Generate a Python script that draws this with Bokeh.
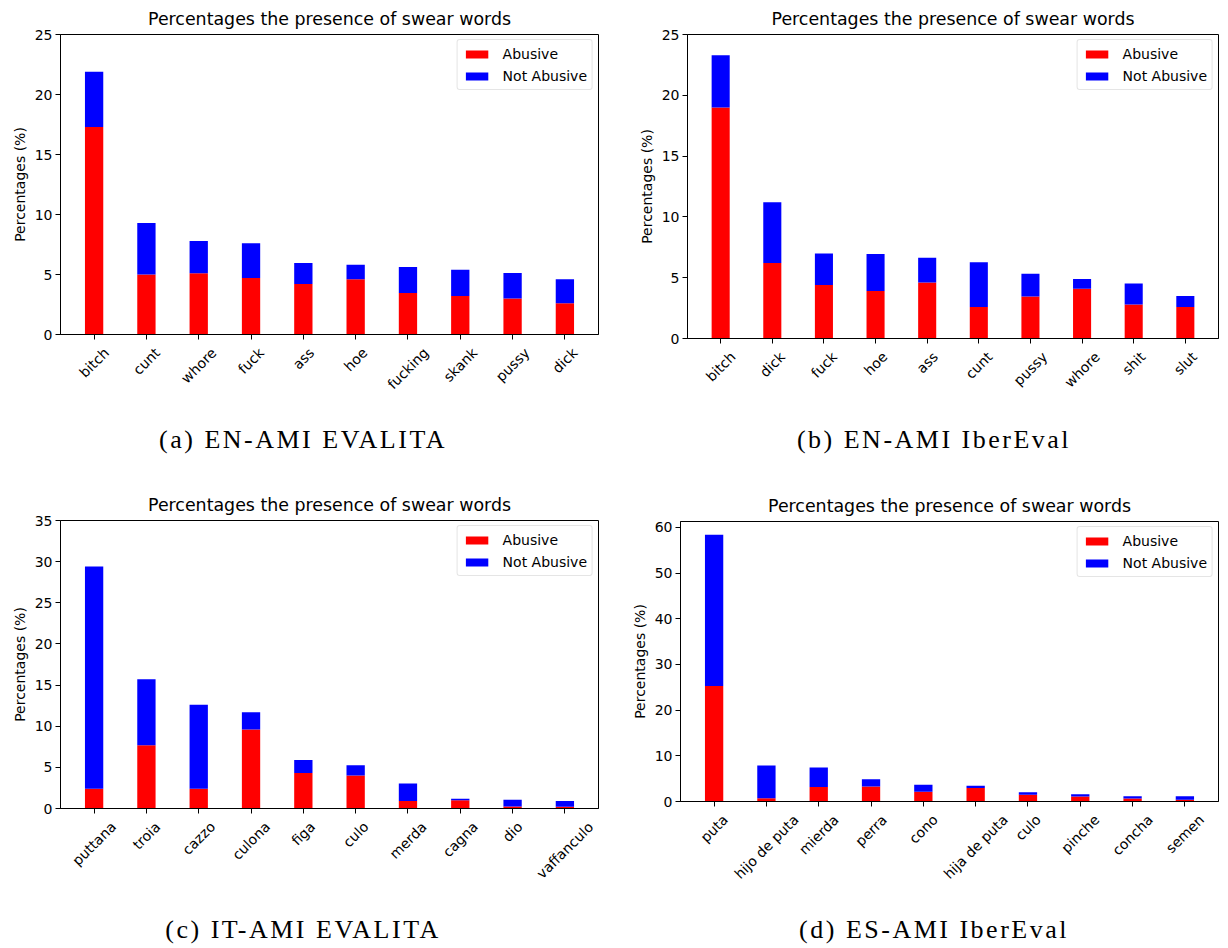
import math
from bokeh.plotting import figure
from bokeh.models import Range1d, FixedTicker, Legend, LegendItem, Div, ColumnDataSource
from bokeh.layouts import column, row
from bokeh.core.properties import value
from bokeh.embed import file_html
from bokeh.resources import INLINE

title_text = "Percentages the presence of swear words"
ylabel = "Percentages (%)"
series_names = ["Abusive", "Not Abusive"]

# (a) EN-AMI EVALITA
a_caption = "(a) EN-AMI EVALITA"
a_words = ["bitch", "cunt", "whore", "fuck", "ass", "hoe", "fucking", "skank", "pussy", "dick"]
a_abusive = [17.3, 5.0, 5.1, 4.7, 4.2, 4.6, 3.45, 3.2, 3.0, 2.6]
a_not_abusive = [4.6, 4.3, 2.7, 2.9, 1.75, 1.22, 2.18, 2.2, 2.13, 2.0]
a_yticks = [0, 5, 10, 15, 20, 25]
a_ymax = 25

# (b) EN-AMI IberEval
b_caption = "(b) EN-AMI IberEval"
b_words = ["bitch", "dick", "fuck", "hoe", "ass", "cunt", "pussy", "whore", "shit", "slut"]
b_abusive = [19.0, 6.2, 4.4, 3.9, 4.6, 2.6, 3.45, 4.1, 2.8, 2.6]
b_not_abusive = [4.3, 5.0, 2.6, 3.05, 2.05, 3.68, 1.88, 0.8, 1.73, 0.9]
b_yticks = [0, 5, 10, 15, 20, 25]
b_ymax = 25

# (c) IT-AMI EVALITA
c_caption = "(c) IT-AMI EVALITA"
c_words = ["puttana", "troia", "cazzo", "culona", "figa", "culo", "merda", "cagna", "dio", "vaffanculo"]
c_abusive = [2.4, 7.7, 2.4, 9.6, 4.3, 4.0, 0.9, 1.0, 0.25, 0.2]
c_not_abusive = [27.0, 8.0, 10.2, 2.1, 1.6, 1.25, 2.15, 0.2, 0.81, 0.7]
c_yticks = [0, 5, 10, 15, 20, 25, 30, 35]
c_ymax = 35

# (d) ES-AMI IberEval
d_caption = "(d) ES-AMI IberEval"
d_words = ["puta", "hijo de puta", "mierda", "perra", "cono", "hija de puta", "culo", "pinche", "concha", "semen"]
d_abusive = [25.3, 0.7, 3.2, 3.3, 2.15, 2.95, 1.5, 1.08, 0.65, 0.37]
d_not_abusive = [33.1, 7.2, 4.23, 1.58, 1.51, 0.5, 0.52, 0.51, 0.51, 0.79]
d_yticks = [0, 10, 20, 30, 40, 50, 60]
d_ymax = 61.3

FONT = "DejaVu Sans"
TICK_PX = 14
AXIS_GAP = 10   # px from frame bottom to end of main figure (tick + pad)

# approximate DejaVu Sans advance widths (em) used to centre rotated tick labels
_W = {"a": .613, "b": .635, "c": .550, "d": .635, "e": .615, "f": .352, "g": .635, "h": .634,
      "i": .278, "j": .278, "k": .579, "l": .278, "m": .974, "n": .634, "o": .612, "p": .635,
      "q": .635, "r": .411, "s": .521, "t": .392, "u": .634, "v": .592, "w": .818, "x": .592,
      "y": .592, "z": .525, " ": .318}


def text_w(s, px):
    return sum(_W.get(ch, .6) for ch in s) * px


def panel(words, abusive, not_abusive, yticks, ymax, width, frame_h, bl, br, bt, label_h):
    n = len(words)
    xs = list(range(n))
    tops = [a + b for a, b in zip(abusive, not_abusive)]
    src = ColumnDataSource(dict(x=xs, abusive=abusive, top=tops))
    xr = Range1d(-0.6425, n - 1 + 0.6425)
    p = figure(width=width, height=bt + frame_h + AXIS_GAP, output_backend="svg",
               toolbar_location=None, x_range=xr, y_range=Range1d(0, ymax),
               title=title_text, min_border_left=bl, min_border_right=br,
               min_border_top=bt, min_border_bottom=AXIS_GAP)
    r1 = p.vbar(x="x", width=0.35, bottom=0, top="abusive", source=src,
                fill_color="#ff0000", line_color=None)
    r2 = p.vbar(x="x", width=0.35, bottom="abusive", top="top", source=src,
                fill_color="#0000ff", line_color=None)
    p.xgrid.visible = False
    p.ygrid.visible = False
    p.outline_line_color = "black"
    p.outline_line_width = 1
    p.outline_line_alpha = 1

    p.xaxis.ticker = FixedTicker(ticks=xs)
    p.xaxis.major_label_overrides = {i: "" for i in xs}
    p.yaxis.ticker = FixedTicker(ticks=yticks)
    p.yaxis.axis_label = ylabel
    for ax in (p.xaxis[0], p.yaxis[0]):
        ax.minor_tick_line_color = None
        ax.major_tick_in = 0
        ax.major_tick_out = 5
        ax.major_tick_line_color = "black"
        ax.axis_line_color = "black"
        ax.major_label_text_font = FONT
        ax.major_label_text_font_size = f"{TICK_PX}px"
        ax.major_label_text_color = "black"
        ax.major_label_standoff = 3
        ax.axis_label_text_font = FONT
        ax.axis_label_text_font_size = "14px"
        ax.axis_label_text_font_style = "normal"
        ax.axis_label_text_color = "black"
        ax.axis_label_standoff = 4
    p.xaxis.major_label_text_font_size = "0px"
    p.xaxis.major_label_standoff = 0

    p.title.text_font = FONT
    p.title.text_font_size = "17.4px"
    p.title.text_font_style = "normal"
    p.title.text_color = "black"
    p.title.align = "center"
    p.title.text_line_height = 1.0
    p.title.standoff = 12

    legend = Legend(items=[LegendItem(label=series_names[0], renderers=[r1]),
                           LegendItem(label=series_names[1], renderers=[r2])],
                    location="top_right")
    legend.margin = 5
    legend.padding = 5
    legend.spacing = 5
    legend.label_height = 17
    legend.glyph_height = 10
    legend.glyph_width = 28
    legend.label_standoff = 12
    legend.label_text_font = FONT
    legend.label_text_font_size = "14px"
    legend.label_text_color = "black"
    legend.border_line_color = "#cccccc"
    legend.border_line_width = 1
    legend.background_fill_alpha = 0.8
    if "border_radius" in Legend.properties():
        legend.border_radius = 3
    p.add_layout(legend)

    # strip under the plot holding the rotated category labels, centred under
    # their ticks (matplotlib style); 1 y-unit = 1 px, 0 = top of the strip
    lp = figure(width=width, height=label_h, output_backend="svg", toolbar_location=None,
                x_range=xr, y_range=Range1d(-label_h, 0), x_axis_type=None, y_axis_type=None,
                min_border_left=bl, min_border_right=br, min_border_top=0, min_border_bottom=0)
    lp.outline_line_color = None
    lp.xgrid.visible = False
    lp.ygrid.visible = False
    h = TICK_PX * 1.16
    ys = [-(0.7071 * (text_w(w, TICK_PX) + h) / 2) for w in words]
    lsrc = ColumnDataSource(dict(x=xs, y=ys, text=words))
    lp.text(x="x", y="y", text="text", source=lsrc, angle=math.pi / 4,
            text_align="center", text_baseline="middle",
            text_font=value(FONT), text_font_size=value(f"{TICK_PX}px"), text_color="black")
    return p, lp


def caption(text, width, height, pad_top, pad_left, pad_right):
    inner_w = width - pad_left - pad_right
    html = (f'<div style="display:block;width:{inner_w}px;margin-left:{pad_left}px;'
            f'text-align:center;font-family:\'Liberation Serif\';'
            'font-size:26px;letter-spacing:2.5px;line-height:22px;color:black;white-space:nowrap;'
            f'padding-top:{pad_top}px;">'
            f'{text}</div>')
    return Div(text=html, width=width, height=height, margin=0)


fa, la = panel(a_words, a_abusive, a_not_abusive, a_yticks, a_ymax, 610, 302, 49, 20, 32, 56)
fb, lb = panel(b_words, b_abusive, b_not_abusive, b_yticks, b_ymax, 602, 305, 69, 2, 33, 52)
fc, lc = panel(c_words, c_abusive, c_not_abusive, c_yticks, c_ymax, 610, 288, 49, 20, 46, 66)
fd, ld = panel(d_words, d_abusive, d_not_abusive, d_yticks, d_ymax, 602, 280, 62, 2, 47, 73)

ca = caption(a_caption, 610, 74, 29, 0, 20)
cb = caption(b_caption, 602, 74, 29, 30, 0)
cc = caption(c_caption, 610, 60, 35, 0, 20)
cd = caption(d_caption, 602, 60, 35, 30, 0)

layout = column(
    row(column(fa, la, ca, spacing=0, margin=0), column(fb, lb, cb, spacing=0, margin=0),
        spacing=0, margin=0),
    row(column(fc, lc, cc, spacing=0, margin=0), column(fd, ld, cd, spacing=0, margin=0),
        spacing=0, margin=0),
    spacing=0, margin=(0, 0, 0, 8),
)

open("out.html", "w").write(file_html(layout, INLINE))
